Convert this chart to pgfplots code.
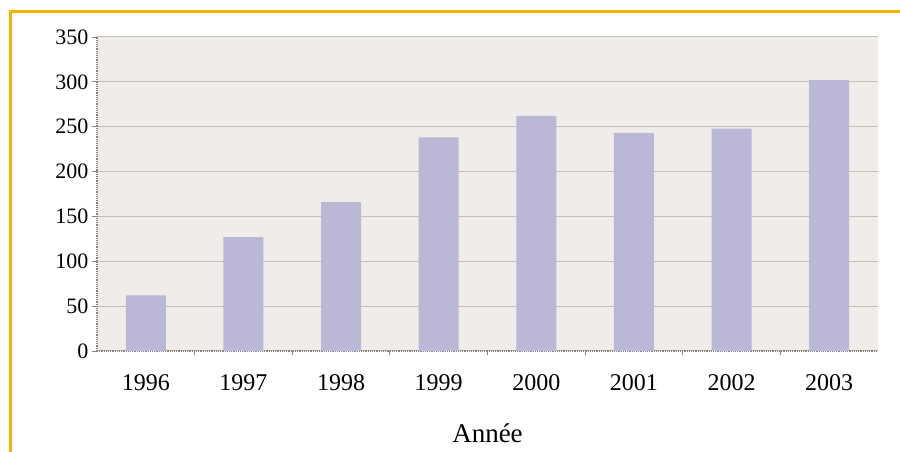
\documentclass[border=0pt]{standalone}
\usepackage{fontspec}
\setmainfont{Liberation Serif}
\usepackage{pgfplots}
\pgfplotsset{compat=1.18}
\definecolor{frameorange}{HTML}{F4B300}
\definecolor{barlav}{HTML}{BAB7D7}
\definecolor{plotbg}{HTML}{F0ECE9}
\definecolor{gridc}{HTML}{C6BDB6}
\definecolor{axisc}{HTML}{8A807A}

\begin{document}
\begin{tikzpicture}
\useasboundingbox (0pt,0pt) rectangle (900pt,452pt);
\clip (0pt,0pt) rectangle (900pt,452pt);
\fill[white] (0pt,0pt) rectangle (900pt,452pt);
\draw[frameorange, line width=3pt] (10pt,-5pt) -- (10pt,440pt) -- (905pt,440pt);
\begin{axis}[
    at={(97pt,101pt)}, anchor=south west,
    width=781pt, height=314pt, scale only axis,
    ybar, bar width=40pt,
    xmin=-0.5, xmax=7.5,
    ymin=0, ymax=350,
    ytick={0,50,...,350},
    xtick={0,...,7},
    xticklabels={1996,1997,1998,1999,2000,2001,2002,2003},
    minor xtick={0.5,1.5,...,6.5},
    major x tick style={draw=none},
    minor tick length=4pt,
    major tick length=5pt,
    tick align=outside,
    tick style={axisc, line width=0.8pt},
    axis x line*=bottom, axis y line*=left,
    axis line style={axisc, line width=1.2pt, densely dotted, -},
    axis background/.style={fill=plotbg},
    ymajorgrids,
    grid style={gridc, line width=1pt},
    /pgf/number format/assume math mode=true,
    x tick label style={font=\fontsize{24}{26}\selectfont, yshift=-15pt},
    y tick label style={font=\fontsize{22}{24}\selectfont},
    xlabel={Année},
    xlabel style={font=\fontsize{27}{29}\selectfont, anchor=base, at={(axis description cs:0.5,0)}, yshift=-92pt},
]
\addplot[fill=barlav, draw=none] coordinates {
    (0,62) (1,127) (2,166) (3,238) (4,262) (5,243) (6,248) (7,302)
};
\end{axis}
\end{tikzpicture}
\end{document}
